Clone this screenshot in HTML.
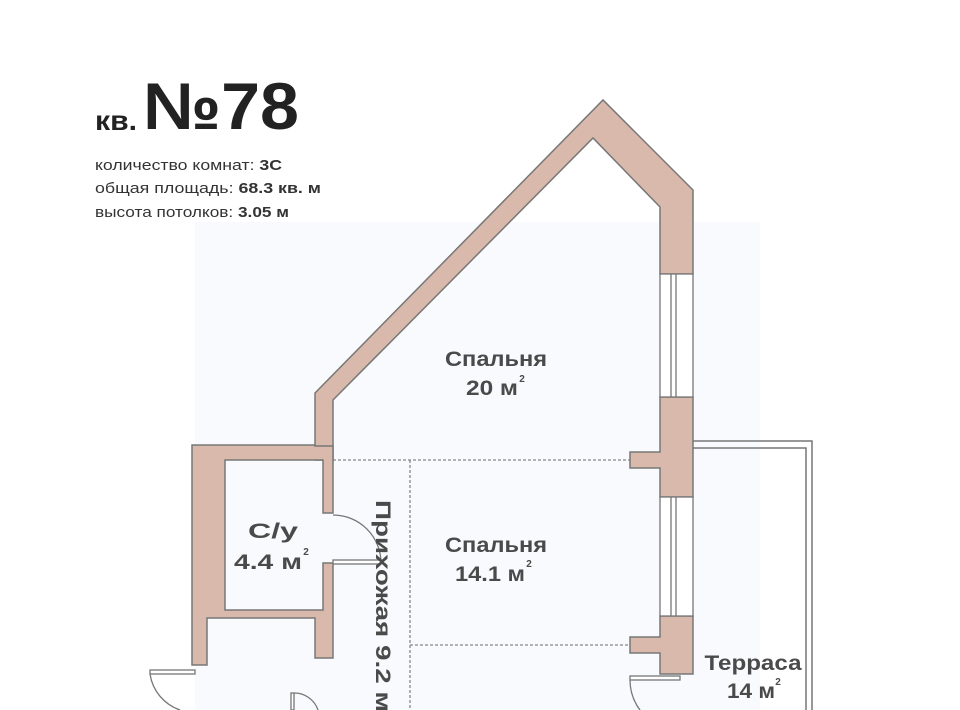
<!DOCTYPE html>
<html><head><meta charset="utf-8"><style>
html,body{margin:0;padding:0;background:#fff;}
svg{display:block;font-family:"Liberation Sans","DejaVu Sans",sans-serif;}
</style></head><body>
<svg width="960" height="710" viewBox="0 0 960 710" xmlns="http://www.w3.org/2000/svg">
<rect width="960" height="710" fill="#fff"/>
<rect x="195" y="222" width="565" height="488" fill="#f9fafd"/>
<!-- title -->
<text x="95" y="130" font-size="28" font-weight="bold" fill="#222" textLength="42" lengthAdjust="spacingAndGlyphs">кв.</text>
<text x="143" y="129" font-size="66" font-weight="bold" fill="#222" textLength="156" lengthAdjust="spacingAndGlyphs">№78</text>
<g font-size="15" fill="#333">
<text x="95" y="170" textLength="187" lengthAdjust="spacingAndGlyphs">количество комнат: <tspan font-weight="bold">3С</tspan></text>
<text x="95" y="193" textLength="226" lengthAdjust="spacingAndGlyphs">общая площадь: <tspan font-weight="bold">68.3 кв. м</tspan></text>
<text x="95" y="217" textLength="194" lengthAdjust="spacingAndGlyphs">высота потолков: <tspan font-weight="bold">3.05 м</tspan></text>
</g>
<!-- dashed -->
<g stroke="#888" stroke-width="1.3" stroke-dasharray="3,2" fill="none">
<line x1="333" y1="460" x2="630" y2="460"/>
<line x1="410" y1="460" x2="410" y2="710"/>
<line x1="410" y1="645" x2="630" y2="645"/>
</g>
<!-- terrace -->
<g stroke="#777" stroke-width="1.5" fill="none">
<polyline points="693,441 812,441 812,710"/>
<polyline points="693,448 806,448 806,710"/>
</g>
<g fill="#d9b9ab" stroke="#777" stroke-width="1.5">
<polygon points="315,460 315,393 603,100 693,190 693,274 660,274 660,207 593,138 333,400 333,460"/>
<polygon points="192,445 315,445 315,446 333,446 333,513 323,513 323,460 225,460 225,610 323,610 323,563 333,563 333,658 315,658 315,618 207,618 207,665 192,665"/>
<polygon points="660,397 693,397 693,497 660,497 660,468 630,468 630,452 660,452"/>
<polygon points="660,616 693,616 693,674 660,674 660,653 630,653 630,637 660,637"/>
</g>
<!-- windows -->
<g stroke="#777" stroke-width="1.3" fill="#fff">
<rect x="660" y="274" width="33" height="123"/>
<rect x="660" y="497" width="33" height="119"/>
<line x1="671" y1="274" x2="671" y2="397"/><line x1="676" y1="274" x2="676" y2="397"/>
<line x1="671" y1="497" x2="671" y2="616"/><line x1="676" y1="497" x2="676" y2="616"/>
</g>
<!-- doors -->
<g stroke="#777" stroke-width="1.3" fill="none">
<path d="M333,515 A48,48 0 0 1 381,563"/>
<rect x="333" y="560" width="48" height="4" fill="#fff"/>
<rect x="150" y="670" width="45" height="4" fill="#fff"/>
<path d="M150,674 A45,45 0 0 0 180,710"/>
<rect x="630" y="676" width="50" height="4" fill="#fff"/>
<path d="M630,680 A50,50 0 0 0 640,710"/>
<rect x="291" y="693" width="3" height="17" fill="#fff"/>
<path d="M294,693 A25,25 0 0 1 318,710"/>
</g>
<!-- labels -->
<g fill="#4a4a4a" font-size="21" font-weight="bold" text-anchor="middle">
<text x="496" y="366" textLength="102" lengthAdjust="spacingAndGlyphs">Спальня</text>
<text x="492" y="395" textLength="52" lengthAdjust="spacingAndGlyphs">20 м</text><text x="522" y="382" font-size="10">2</text>
<text x="496" y="552" textLength="102" lengthAdjust="spacingAndGlyphs">Спальня</text>
<text x="490" y="581" textLength="70" lengthAdjust="spacingAndGlyphs">14.1 м</text><text x="529" y="567" font-size="10">2</text>
<text x="273" y="538" textLength="50" lengthAdjust="spacingAndGlyphs">С/у</text>
<text x="268" y="569" textLength="68" lengthAdjust="spacingAndGlyphs">4.4 м</text><text x="306" y="555" font-size="10">2</text>
<text x="753" y="670" textLength="97" lengthAdjust="spacingAndGlyphs">Терраса</text>
<text x="751" y="698" textLength="48" lengthAdjust="spacingAndGlyphs">14 м</text><text x="778" y="685" font-size="10">2</text>
<text transform="translate(376,500) rotate(90)" text-anchor="start" textLength="212" lengthAdjust="spacingAndGlyphs">Прихожая 9.2 м</text>
</g>
</svg>
</body></html>
